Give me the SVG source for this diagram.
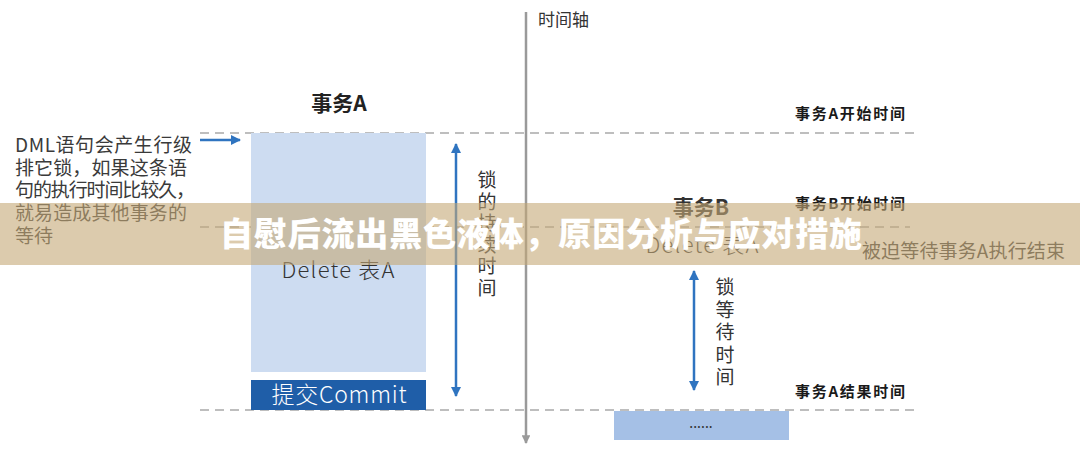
<svg xmlns="http://www.w3.org/2000/svg" width="1080" height="468" viewBox="0 0 1080 468">
<defs>
<style>
.cn{font-family:"Noto Sans CJK SC","Liberation Sans",sans-serif;}
.dash{stroke:#a9a9a9;stroke-width:1.5;stroke-dasharray:9 6;fill:none;}
.blue{stroke:#2f74c0;stroke-width:2.5;fill:none;}
.lbl{font-size:15px;font-weight:bold;fill:#1a1a1a;}
.vt{font-size:19px;fill:#333;}
.note{font-size:19px;fill:#3a3a3a;}
</style>
<marker id="ab" viewBox="0 0 10 10" refX="9" refY="5" markerWidth="4" markerHeight="4" orient="auto-start-reverse">
<path d="M0,0 L10,5 L0,10 z" fill="#2f74c0"/>
</marker>
<marker id="ag" viewBox="0 0 10 10" refX="9" refY="5" markerWidth="3.5" markerHeight="3.5" orient="auto">
<path d="M0,0 L10,5 L0,10 z" fill="#9a9a9a"/>
</marker>
</defs>
<rect width="1080" height="468" fill="#ffffff"/>

<g id="connectors">
<line class="dash" x1="200" y1="133" x2="915" y2="133"/>
<line class="dash" x1="200" y1="227" x2="910" y2="227"/>
<line class="dash" x1="200" y1="410" x2="915" y2="410"/>
<line x1="526" y1="12" x2="526" y2="443" stroke="#9a9a9a" stroke-width="2.5" marker-end="url(#ag)"/>
<line class="blue" x1="200" y1="140" x2="240" y2="140" marker-end="url(#ab)"/>
<line class="blue" x1="456" y1="144" x2="456" y2="396" marker-start="url(#ab)" marker-end="url(#ab)"/>
<line class="blue" x1="694" y1="271" x2="694" y2="390" marker-start="url(#ab)" marker-end="url(#ab)"/>
</g>

<g id="axis-label">
<text class="cn" x="538" y="26" font-size="17" fill="#333">时间轴</text>
</g>

<g id="note-left">
<text class="cn note" x="15" y="152"><tspan textLength="177">DML语句会产生行级</tspan><tspan x="15" dy="23" textLength="172">排它锁，如果这条语</tspan><tspan x="15" dy="22" textLength="180">句的执行时间比较久，</tspan><tspan x="15" dy="23" textLength="172">就易造成其他事务的</tspan><tspan x="15" dy="23">等待</tspan></text>
</g>

<g id="txA">
<text class="cn" x="339" y="111" font-size="21" font-weight="bold" fill="#222" text-anchor="middle">事务A</text>
<rect x="251" y="133" width="175" height="239" fill="#cddcf1"/>
<text class="cn" x="338" y="278" font-size="22" font-weight="300" fill="#333" text-anchor="middle" textLength="113">Delete 表A</text>
</g>

<g id="commit">
<rect x="251" y="380" width="175" height="30" fill="#1f5ea8"/>
<text class="cn" x="339" y="403" font-size="23" font-weight="300" fill="#ffffff" text-anchor="middle" textLength="135">提交Commit</text>
</g>

<g id="lock-hold">
<text class="cn vt" text-anchor="middle" x="487" y="187">锁<tspan x="487" dy="21.5">的</tspan><tspan x="487" dy="21.5">持</tspan><tspan x="487" dy="21.5">续</tspan><tspan x="487" dy="21.5">时</tspan><tspan x="487" dy="21.5">间</tspan></text>
</g>

<g id="labels-right" class="cn lbl">
<text x="795" y="119" textLength="110">事务A开始时间</text>
<text x="795" y="209" textLength="110">事务B开始时间</text>
<text x="795" y="397" textLength="110">事务A结果时间</text>
</g>

<g id="txB">
<text class="cn" x="701" y="215" font-size="21" font-weight="bold" fill="#333" text-anchor="middle">事务B</text>
<text class="cn" x="702" y="253" font-size="22" font-weight="300" fill="#333" text-anchor="middle" textLength="113">Delete 表A</text>
</g>

<g id="wait-note">
<text class="cn note" x="862" y="258" textLength="203">被迫等待事务A执行结束</text>
</g>

<g id="lock-wait">
<text class="cn vt" text-anchor="middle" x="725" y="294">锁<tspan x="725" dy="22.5">等</tspan><tspan x="725" dy="22.5">待</tspan><tspan x="725" dy="22.5">时</tspan><tspan x="725" dy="22.5">间</tspan></text>
</g>

<g id="txB-next">
<rect x="614" y="411" width="175" height="29" fill="#a5c0e6"/>
<text class="cn" x="701" y="428" font-size="14" fill="#333" text-anchor="middle">......</text>
</g>

<g id="banner">
<rect x="0" y="203" width="1080" height="62" fill="rgb(197,168,118)" fill-opacity="0.6"/>
<text class="cn" x="220" y="246" font-size="33" font-weight="900" fill="#ffffff" textLength="642">自慰后流出黑色液体，原因分析与应对措施</text>
</g>
</svg>
